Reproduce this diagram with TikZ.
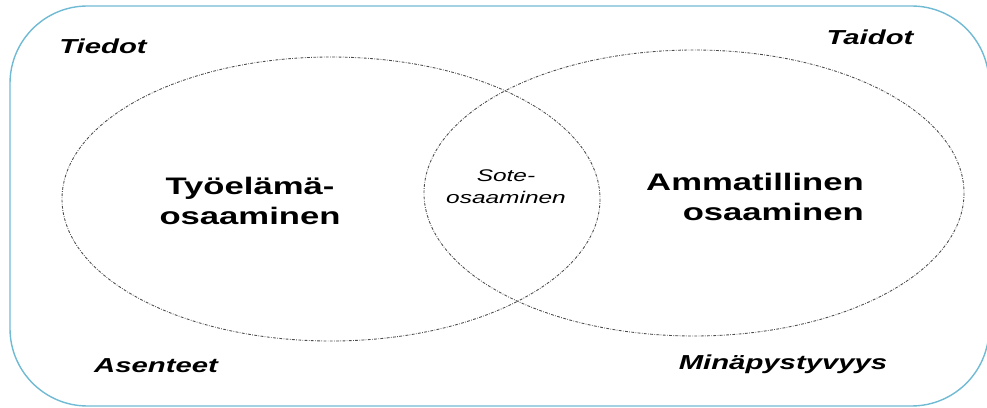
\documentclass[tikz,border=0pt]{standalone}
\usepackage{fontspec}
\setmainfont[FakeStretch=1.45]{Liberation Sans}
\usepackage{tikz}
\usetikzlibrary{positioning}
\definecolor{frameblue}{RGB}{112,186,212}
\tikzset{
  area/.style={draw=black!70, line width=0.5pt,
    dash pattern=on 1.6pt off 0.8pt on 0.4pt off 0.8pt},
  biglabel/.style={font=\fontsize{13.6}{17.6}\selectfont\bfseries, align=center},
  cornerlabel/.style={font=\fontsize{11.5}{14}\selectfont\bfseries\itshape, anchor=base},
  midlabel/.style={font=\fontsize{9.6}{12.5}\selectfont\itshape, align=center}
}
\begin{document}
\begin{tikzpicture}[x=0.02cm,y=-0.02cm]
  \useasboundingbox (0,0) rectangle (987,408);
  \coordinate(L) at (331,199);
  \coordinate(R) at (694,193);
  \draw[frameblue, line width=0.8pt, rounded corners=1.55cm] (10,6) rectangle (989,406);
  \draw[area](L) ellipse[x radius=269, y radius=142];
  \draw[area](R) ellipse[x radius=270, y radius=143];
  \node[biglabel](tyo) at (250,201) {Työelämä-\\osaaminen};
  \node[biglabel, align=right](amm) at (755,197) {Ammatillinen\\osaaminen};
  \node[midlabel](sote) at (506,187) {Sote-\\osaaminen};
  \node[cornerlabel](tiedot) at (103,54) {Tiedot};
  \node[cornerlabel](taidot) at (870,45) {Taidot};
  \node[cornerlabel](asenteet) at (156,373) {Asenteet};
  \node[cornerlabel](mina) at (783,370) {Minäpystyvyys};
\end{tikzpicture}
\end{document}
